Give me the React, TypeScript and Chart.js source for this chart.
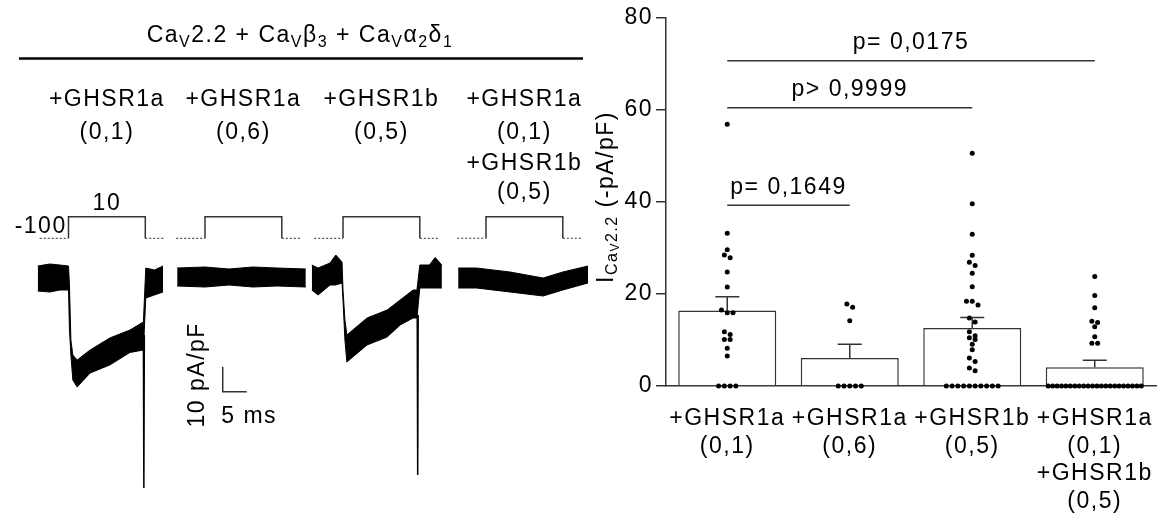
import React, { useEffect, useRef } from 'react';
import { Chart, registerables } from 'chart.js';

Chart.register(...registerables);

const FONT = '"Liberation Sans", Arial, Helvetica, sans-serif';
const SPACING = '1.5px';
const FS = 23;
const FS_SUB = 16;
const INK = '#000000';
const LINE = '#333333';

// ---------- conditions (shared by both panels)
const conditionLabels = [
  ['+GHSR1a', '(0,1)'],
  ['+GHSR1a', '(0,6)'],
  ['+GHSR1b', '(0,5)'],
  ['+GHSR1a', '(0,1)', '+GHSR1b', '(0,5)'],
];

// ---------- bar chart data (I CaV2.2, -pA/pF)
const meanCurrent = [16.4, 6.1, 12.6, 4.1];
const semCurrent = [3.0, 3.0, 2.3, 1.5];
const cellsGHSR1a01 = [56.9, 33.2, 29.6, 28.5, 27.9, 24.8, 21.5, 16.5, 15.9, 15.9, 11.8, 11.2, 10.1, 10.1, 8.2, 6.5, 0, 0, 0, 0];
const cellsGHSR1a06 = [17.8, 17.1, 14.2, 0, 0, 0, 0, 0];
const cellsGHSR1b05 = [50.6, 39.6, 33.0, 28.4, 26.9, 26.2, 24.5, 21.6, 18.4, 18.4, 17.6, 14.8, 13.9, 11.8, 10.9, 10.5, 10.1, 9.1, 7.9, 6.1, 5.3, 3.9, 3.3, 0, 0, 0, 0, 0, 0, 0, 0, 0, 0];
const cellsBoth = [23.8, 19.7, 17.0, 14.1, 13.8, 12.9, 10.7, 9.3, 9.3, 0, 0, 0, 0, 0, 0, 0, 0, 0, 0, 0, 0, 0, 0, 0, 0, 0, 0, 0, 0, 0, 0];
const yTicks = [0, 20, 40, 60, 80];
const compareFrom = [0, 0, 0];
const compareTo = [1, 2, 3];
const compareHeight = [39.3, 60.5, 70.7];
const compareText = ['p= 0,1649', 'p> 0,9999', 'p= 0,0175'];

// ---------- voltage protocol (mV, ms)
const protocolHoldMv = -100;
const protocolTestMv = 10;
const protocolTimesMs = [-6, 0, 16, 20];

// ---------- current traces: noisy-band envelopes (ms, pA/pF)
const sweep1Time = [-6.4, -3.9, -1.8, 0, 0.2, 0.5, 0.9, 1.8, 4.5, 8.6, 12.8, 15.6, 16.1, 17.9, 19.7];
const sweep1Upper = [5.6, 6.4, 6.0, 5.6, -2, -24, -30, -32, -28, -23.2, -20, -16.8, 4.8, 4.0, 5.6];
const sweep1Lower = [-4.4, -4.8, -4.0, -4.0, -20, -30, -40, -42.8, -37.2, -34, -29, -28, -7.2, -6.0, -4.8];

const sweep2Time = [-5.8, 0, 5, 10, 15, 21];
const sweep2Upper = [4.8, 5.2, 4.4, 5.2, 4.8, 4.4];
const sweep2Lower = [-2.4, -2.8, -2.0, -2.8, -2.4, -2.8];

const sweep3Time = [-6.5, -5.2, -2.7, -1.5, -0.2, 0, 0.4, 0.8, 5.0, 9.2, 11.9, 14.6, 15.4, 16.0, 18.0, 19.2, 20.6];
const sweep3Upper = [6, 4.8, 6.8, 10, 7.2, -4, -16, -22, -15.2, -12, -8, -4, -4, 6, 6, 9, 6];
const sweep3Lower = [-4, -6, -2, -2, -1.2, -8, -24, -32.8, -26, -22.8, -18, -15.2, -15.2, -3.2, -3.2, -3.2, -3.2];

const sweep4Time = [-5.8, -2, 5, 11.9, 16, 21.25];
const sweep4Upper = [4.8, 4.8, 3.2, 0.8, 3.2, 5.6];
const sweep4Lower = [-3.2, -3.2, -4.8, -6.4, -4.0, -1.2];

const tailSpikeTime = [15.7, null, 15.56, null];
const tailSpikeBase = [-22, null, -14, null];
const tailSpikePeak = [-83.2, null, -78, null];

const scaleBarCurrent = 10; // pA/pF
const scaleBarTime = 5; // ms

// ---------- layout constants (positions, not data)
const sweepOffsetMs = [14.27, 42.71, 71.46, 101.25];
const scaleBarCorner = { t: 46.4, i: -44.7 };
const labelBaselines = [106, 138.7, 170, 199.4];

type Seg = { t: string; s: number; dy: number };

function drawRich(ctx: any, segs: Seg[], x: number, y: number, align: 'left' | 'center' | 'right') {
  ctx.save();
  ctx.fillStyle = INK;
  ctx.textBaseline = 'alphabetic';
  ctx.textAlign = 'left';
  ctx.letterSpacing = SPACING;
  let total = 0;
  const widths = segs.map((sg) => {
    ctx.font = `${sg.s}px ${FONT}`;
    const w = ctx.measureText(sg.t).width;
    total += w;
    return w;
  });
  let cx = align === 'center' ? x - total / 2 : align === 'right' ? x - total : x;
  segs.forEach((sg, i) => {
    ctx.font = `${sg.s}px ${FONT}`;
    ctx.fillText(sg.t, cx, y + sg.dy);
    cx += widths[i];
  });
  ctx.restore();
}

const titleSegs: Seg[] = [
  { t: 'Ca', s: FS, dy: 0 }, { t: 'V', s: FS_SUB, dy: 5 }, { t: '2.2 + Ca', s: FS, dy: 0 }, { t: 'V', s: FS_SUB, dy: 5 },
  { t: 'β', s: FS, dy: 0 }, { t: '3', s: FS_SUB, dy: 5 }, { t: ' + Ca', s: FS, dy: 0 }, { t: 'V', s: FS_SUB, dy: 5 },
  { t: 'α', s: FS, dy: 0 }, { t: '2', s: FS_SUB, dy: 5 }, { t: 'δ', s: FS, dy: 0 }, { t: '1', s: FS_SUB, dy: 5 },
];

const yTitleSegs: Seg[] = [
  { t: 'I', s: FS, dy: 0 }, { t: 'Ca', s: FS_SUB, dy: 4 }, { t: 'V', s: 12, dy: 6 }, { t: '2.2', s: FS_SUB, dy: 4 },
  { t: ' (-pA/pF)', s: FS, dy: 0 },
];

// ---------- left panel (protocol + traces)
function TracePanel() {
  const ref = useRef<HTMLCanvasElement>(null);
  useEffect(() => {
    const sweeps = [
      { t: sweep1Time, up: sweep1Upper, lo: sweep1Lower },
      { t: sweep2Time, up: sweep2Upper, lo: sweep2Lower },
      { t: sweep3Time, up: sweep3Upper, lo: sweep3Lower },
      { t: sweep4Time, up: sweep4Upper, lo: sweep4Lower },
    ];
    const datasets: any[] = [];
    sweeps.forEach((s, i) => {
      const o = sweepOffsetMs[i];
      datasets.push({
        data: s.t.map((t, k) => ({ x: o + t, y: s.up[k] })),
        borderColor: INK, borderWidth: 1, pointRadius: 0, fill: false, yAxisID: 'y',
      });
      datasets.push({
        data: s.t.map((t, k) => ({ x: o + t, y: s.lo[k] })),
        borderColor: INK, borderWidth: 1, pointRadius: 0, fill: '-1', backgroundColor: INK, yAxisID: 'y',
      });
      const st = tailSpikeTime[i];
      if (st !== null) {
        datasets.push({
          data: [
            { x: o + st - 0.1, y: tailSpikeBase[i] },
            { x: o + st, y: tailSpikePeak[i] },
            { x: o + st + 0.1, y: tailSpikeBase[i] },
          ],
          borderColor: INK, borderWidth: 1.5, pointRadius: 0, fill: false, yAxisID: 'y',
        });
      }
      const [t0, ton, toff, t1] = protocolTimesMs;
      datasets.push({
        data: [{ x: o + t0, y: protocolHoldMv }, { x: o + ton, y: protocolHoldMv }],
        borderColor: '#555', borderWidth: 1.2, borderDash: [2, 2], pointRadius: 0, fill: false, yAxisID: 'yV',
      });
      datasets.push({
        data: [
          { x: o + ton, y: protocolHoldMv }, { x: o + ton, y: protocolTestMv },
          { x: o + toff, y: protocolTestMv }, { x: o + toff, y: protocolHoldMv },
        ],
        borderColor: LINE, borderWidth: 1.5, pointRadius: 0, fill: false, yAxisID: 'yV',
      });
      datasets.push({
        data: [{ x: o + toff, y: protocolHoldMv }, { x: o + t1, y: protocolHoldMv }],
        borderColor: '#555', borderWidth: 1.2, borderDash: [2, 2], pointRadius: 0, fill: false, yAxisID: 'yV',
      });
    });
    datasets.push({
      data: [
        { x: scaleBarCorner.t, y: scaleBarCorner.i + scaleBarCurrent },
        { x: scaleBarCorner.t, y: scaleBarCorner.i },
        { x: scaleBarCorner.t + scaleBarTime, y: scaleBarCorner.i },
      ],
      borderColor: LINE, borderWidth: 1.5, pointRadius: 0, fill: false, yAxisID: 'y',
    });

    const textPlugin = {
      id: 'leftText',
      afterDraw(chart: any) {
        const ctx = chart.ctx;
        const xs = chart.scales.x;
        const ys = chart.scales.y;
        const yv = chart.scales.yV;
        drawRich(ctx, titleSegs, 300, 42, 'center');
        ctx.save();
        ctx.strokeStyle = INK;
        ctx.lineWidth = 2.5;
        ctx.beginPath();
        ctx.moveTo(19, 58.5);
        ctx.lineTo(583, 58.5);
        ctx.stroke();
        ctx.restore();
        conditionLabels.forEach((lines, i) => {
          const cx = xs.getPixelForValue(sweepOffsetMs[i] + 8);
          lines.forEach((ln, k) => drawRich(ctx, [{ t: ln, s: FS, dy: 0 }], cx, labelBaselines[k], 'center'));
        });
        const c0 = xs.getPixelForValue(sweepOffsetMs[0] + 8);
        drawRich(ctx, [{ t: String(protocolTestMv), s: FS, dy: 0 }], c0, yv.getPixelForValue(protocolTestMv) - 6.5, 'center');
        drawRich(ctx, [{ t: String(protocolHoldMv), s: FS, dy: 0 }], xs.getPixelForValue(sweepOffsetMs[0] + protocolTimesMs[0]) + 27, yv.getPixelForValue(protocolHoldMv) - 5, 'right');
        const bx = xs.getPixelForValue(scaleBarCorner.t);
        const by = ys.getPixelForValue(scaleBarCorner.i);
        drawRich(ctx, [{ t: `${scaleBarTime} ms`, s: FS, dy: 0 }], bx - 1.5, by + 31, 'left');
        ctx.save();
        ctx.translate(bx - 19, by - 17);
        ctx.rotate(-Math.PI / 2);
        drawRich(ctx, [{ t: `${scaleBarCurrent} pA/pF`, s: FS, dy: 0 }], 0, 0, 'center');
        ctx.restore();
      },
    };

    const chart = new Chart(ref.current as HTMLCanvasElement, {
      type: 'line',
      data: { datasets },
      options: {
        responsive: false,
        animation: false,
        events: [],
        layout: { padding: 0 },
        plugins: { legend: { display: false }, tooltip: { enabled: false } },
        elements: { line: { tension: 0 }, point: { radius: 0 } },
        scales: {
          x: { type: 'linear', display: false, min: 0, max: 125 },
          y: { type: 'linear', axis: 'y', display: false, min: -96.8, max: 112 },
          yV: { type: 'linear', axis: 'y', display: false, min: -1544.8, max: 1113.6 },
        },
      } as any,
      plugins: [textPlugin],
    });
    return () => chart.destroy();
  }, []);
  return <canvas ref={ref} width={600} height={522} style={{ display: 'block' }} />;
}

// ---------- right panel (bar + dots)
const ROW_TOL = 1.0;
const DOT_STEP = 0.047;
const MAX_SPAN = 0.76;

function swarm(values: number[], center: number) {
  const sorted = [...values].sort((a, b) => b - a);
  const rows: number[][] = [];
  for (const v of sorted) {
    const row = rows[rows.length - 1];
    if (row && Math.abs(row[0] - v) <= ROW_TOL) row.push(v);
    else rows.push([v]);
  }
  const pts: { x: number; y: number }[] = [];
  rows.forEach((row) => {
    const n = row.length;
    const step = n > 1 ? Math.min(DOT_STEP, MAX_SPAN / (n - 1)) : 0;
    row.forEach((v, k) => pts.push({ x: center + (k - (n - 1) / 2) * step, y: v }));
  });
  return pts;
}

function BarPanel() {
  const ref = useRef<HTMLCanvasElement>(null);
  useEffect(() => {
    const cellGroups = [cellsGHSR1a01, cellsGHSR1a06, cellsGHSR1b05, cellsBoth];
    const dots = cellGroups.flatMap((vals, i) => swarm(vals, i));

    const spacingPlugin = {
      id: 'spacing',
      beforeUpdate(chart: any) { chart.ctx.letterSpacing = SPACING; },
      beforeDraw(chart: any) { chart.ctx.letterSpacing = SPACING; },
    };

    const annotPlugin = {
      id: 'annot',
      afterDatasetDraw(chart: any, args: any) {
        if (args.index !== 0) return;
        const ctx = chart.ctx;
        const xs = chart.scales.x;
        const ys = chart.scales.y;
        ctx.save();
        ctx.strokeStyle = LINE;
        ctx.lineWidth = 1.5;
        meanCurrent.forEach((m, i) => {
          const x = xs.getPixelForValue(i);
          const y0 = ys.getPixelForValue(m);
          const y1 = ys.getPixelForValue(m + semCurrent[i]);
          ctx.beginPath();
          ctx.moveTo(x, y0);
          ctx.lineTo(x, y1);
          ctx.moveTo(x - 12, y1);
          ctx.lineTo(x + 12, y1);
          ctx.stroke();
        });
        ctx.restore();
      },
      afterDraw(chart: any) {
        const ctx = chart.ctx;
        const xs = chart.scales.x;
        const ys = chart.scales.y;
        compareTo.forEach((to, k) => {
          const xa = xs.getPixelForValue(compareFrom[k]);
          const xb = xs.getPixelForValue(to);
          const y = ys.getPixelForValue(compareHeight[k]);
          ctx.save();
          ctx.strokeStyle = LINE;
          ctx.lineWidth = 1.5;
          ctx.beginPath();
          ctx.moveTo(xa, y);
          ctx.lineTo(xb, y);
          ctx.stroke();
          ctx.restore();
          drawRich(ctx, [{ t: compareText[k], s: FS, dy: 0 }], (xa + xb) / 2, y - 11.5, 'center');
        });
        const ca = chart.chartArea;
        ctx.save();
        ctx.translate(ca.left - 53, (ca.top + ca.bottom) / 2 - 5);
        ctx.rotate(-Math.PI / 2);
        drawRich(ctx, yTitleSegs, 0, 0, 'center');
        ctx.restore();
      },
    };

    const chart = new Chart(ref.current as HTMLCanvasElement, {
      type: 'bar',
      data: {
        labels: conditionLabels as any,
        datasets: [
          {
            type: 'bar',
            data: meanCurrent,
            backgroundColor: '#ffffff',
            borderColor: LINE,
            borderWidth: 1.5,
            barPercentage: 0.8,
            categoryPercentage: 1,
            grouped: false,
            order: 2,
            xAxisID: 'x',
            yAxisID: 'y',
          } as any,
          {
            type: 'scatter',
            data: dots,
            backgroundColor: INK,
            borderColor: INK,
            borderWidth: 0,
            pointRadius: 2.5,
            order: 1,
            clip: false,
            xAxisID: 'xs',
            yAxisID: 'y',
          } as any,
        ],
      },
      options: {
        responsive: false,
        animation: false,
        events: [],
        layout: { padding: { top: 18, right: 0, left: 0, bottom: 0 } },
        plugins: { legend: { display: false }, tooltip: { enabled: false } },
        scales: {
          x: {
            type: 'category',
            offset: true,
            grid: { display: false, drawTicks: false },
            border: { display: true, color: LINE, width: 1.5 },
            ticks: {
              color: INK,
              font: { family: FONT, size: FS, lineHeight: 1.2 },
              padding: 19,
              maxRotation: 0,
              minRotation: 0,
              autoSkip: false,
            },
            afterFit: (s: any) => { s.height = 136; s.paddingLeft = 0; s.paddingRight = 0; },
          },
          xs: { type: 'linear', axis: 'x', display: false, offset: false, grid: { offset: false }, min: -0.5, max: 3.5 },
          y: {
            type: 'linear',
            min: 0,
            max: 80,
            afterBuildTicks: (s: any) => { s.ticks = yTicks.map((v) => ({ value: v })); },
            ticks: { color: INK, font: { family: FONT, size: FS }, padding: 3 },
            grid: { drawOnChartArea: false, drawTicks: true, tickLength: 10, color: LINE, lineWidth: 1.5 },
            border: { display: true, color: LINE, width: 1.5 },
            afterFit: (s: any) => { s.width = 96; },
          },
        },
      } as any,
      plugins: [spacingPlugin, annotPlugin],
    });
    return () => chart.destroy();
  }, []);
  return <canvas ref={ref} width={590} height={522} style={{ display: 'block' }} />;
}

export default function App() {
  return (
    <div style={{ position: 'absolute', left: 0, top: 0, width: 1160, height: 522, background: '#ffffff', overflow: 'hidden' }}>
      <div style={{ position: 'absolute', left: 0, top: 0, width: 600, height: 522 }}>
        <TracePanel />
      </div>
      <div style={{ position: 'absolute', left: 570, top: 0, width: 590, height: 522 }}>
        <BarPanel />
      </div>
    </div>
  );
}
